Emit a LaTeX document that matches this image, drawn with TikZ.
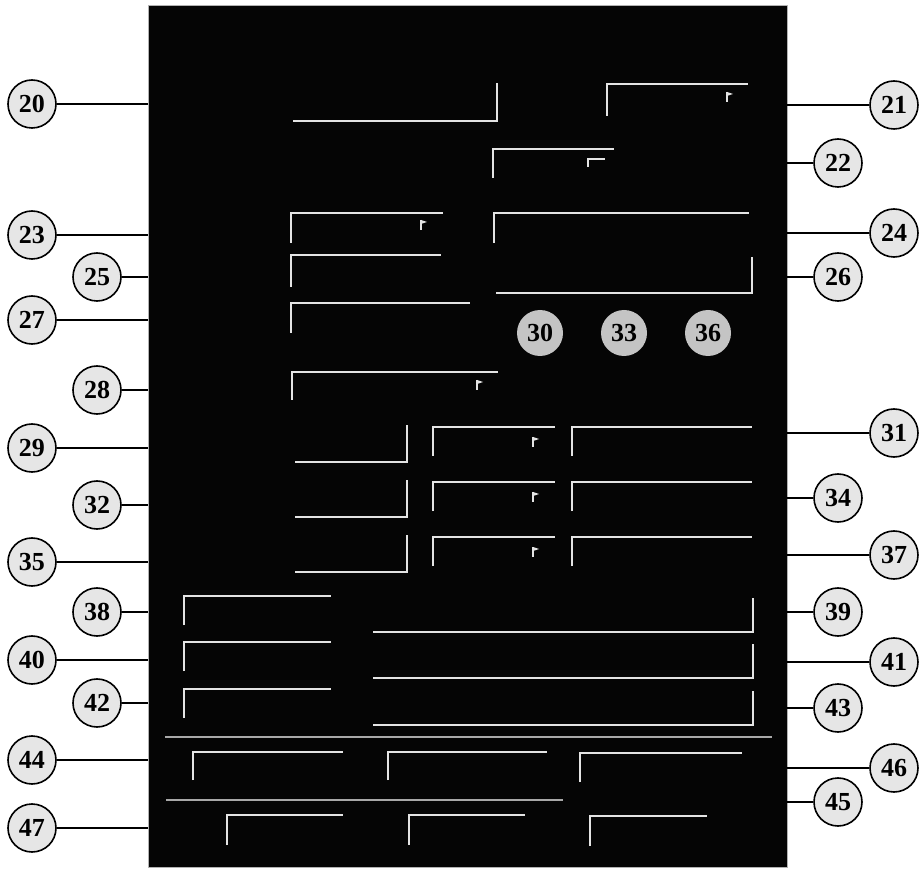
\documentclass[tikz,border=0pt]{standalone}
\usepackage{fontspec}
\setmainfont{Liberation Serif}
\usetikzlibrary{positioning}
\definecolor{panel}{HTML}{050505}
\definecolor{trace}{HTML}{E4E4E4}
\definecolor{dimtrace}{HTML}{A8A8A8}
\definecolor{stipple}{HTML}{E6E6E6}
\definecolor{badgegray}{HTML}{C4C4C4}

\begin{document}
\begin{tikzpicture}[
  x=1pt, y=-1pt,
  screen/.style={fill=panel, draw=gray!60, line width=0.6pt,
                 minimum width=639pt, minimum height=862pt, inner sep=0pt},
  callout/.style={circle, draw=black, fill=stipple, line width=1.6pt,
                  minimum size=48pt, inner sep=0pt,
                  font=\fontsize{26}{26}\selectfont\bfseries},
  badge/.style={circle, fill=badgegray, minimum size=46pt, inner sep=0pt,
                font=\fontsize{26}{26}\selectfont\bfseries},
  leader/.style={draw=black, line width=1.8pt},
  field/.style={draw=trace, line width=2pt},
  rule/.style={draw=dimtrace, line width=1.4pt},
  flag/.pic={\draw[trace, line width=1.3pt] (0,-5) -- (0,5);
             \fill[trace] (0,-5) -- (6,-3) -- (0,-1) -- cycle;},
]
\useasboundingbox (0,0) rectangle (922,877);
\node[screen] (screen) at (467.5,436) {};

% reference numbers
\foreach \n/\x/\y in {20/32/104, 23/32/235, 25/97/277, 27/32/320,
                      28/97/390, 29/32/448, 32/97/505, 35/32/562,
                      38/97/612, 40/32/660, 42/97/703, 44/32/760, 47/32/828}
  \node[callout] (c\n) at (\x,\y) {\n};
\foreach \n/\x/\y in {21/894/105, 22/838/163, 24/894/233, 26/838/277,
                      31/894/433, 34/838/498, 37/894/555, 39/838/612,
                      41/894/662, 43/838/708, 46/894/768, 45/838/802}
  \node[callout] (c\n) at (\x,\y) {\n};

\foreach \n in {20,23,25,27,28,29,32,35,38,40,42,44,47}
  \draw[leader] (c\n) -- (c\n -| screen.west);
\foreach \n in {21,22,24,26,31,34,37,39,41,43,46,45}
  \draw[leader] (c\n) -- (c\n -| screen.east);

% upper fields
\draw[field] (293,121) -- (497,121) -- (497,83);
\draw[field] (607,116) -- (607,84) -- (748,84);
\pic at (727,97) {flag};
\draw[field] (493,178) -- (493,149) -- (614,149);
\draw[field, line width=1.4pt] (588,167) -- (588,159) -- (605,159);
\draw[field] (291,243) -- (291,213) -- (443,213);
\pic at (421,225) {flag};
\draw[field] (494,243) -- (494,213) -- (749,213);
\draw[field] (496,293) -- (752,293) -- (752,257);
\draw[field] (291,287) -- (291,255) -- (441,255);
\draw[field] (291,333) -- (291,303) -- (470,303);
\draw[field] (292,400) -- (292,372) -- (498,372);
\pic at (477,385) {flag};

\node[badge] (b30) at (540,333) {30};
\node[badge] (b33) at (624,333) {33};
\node[badge] (b36) at (708,333) {36};

% three rows of paired fields
\foreach \t in {425,480,535} {
  \draw[field] (295,\t+37) -- (407,\t+37) -- (407,\t);
  \draw[field] (433,\t+31) -- (433,\t+2) -- (555,\t+2);
  \draw[field] (572,\t+31) -- (572,\t+2) -- (752,\t+2);
  \pic at (533,\t+17) {flag};
}

% lower fields
\foreach \t in {596,642,689} {
  \draw[field] (184,\t+29) -- (184,\t) -- (331,\t);
  \draw[field] (373,\t+36) -- (753,\t+36) -- (753,\t+2);
}
\draw[rule] (165,737) -- (772,737);
\draw[field] (193,780) -- (193,752) -- (343,752);
\draw[field] (388,780) -- (388,752) -- (547,752);
\draw[field] (580,782) -- (580,753) -- (742,753);
\draw[rule] (166,800) -- (563,800);
\draw[field] (227,845) -- (227,815) -- (343,815);
\draw[field] (409,845) -- (409,815) -- (525,815);
\draw[field] (590,846) -- (590,816) -- (707,816);
\end{tikzpicture}
\end{document}
